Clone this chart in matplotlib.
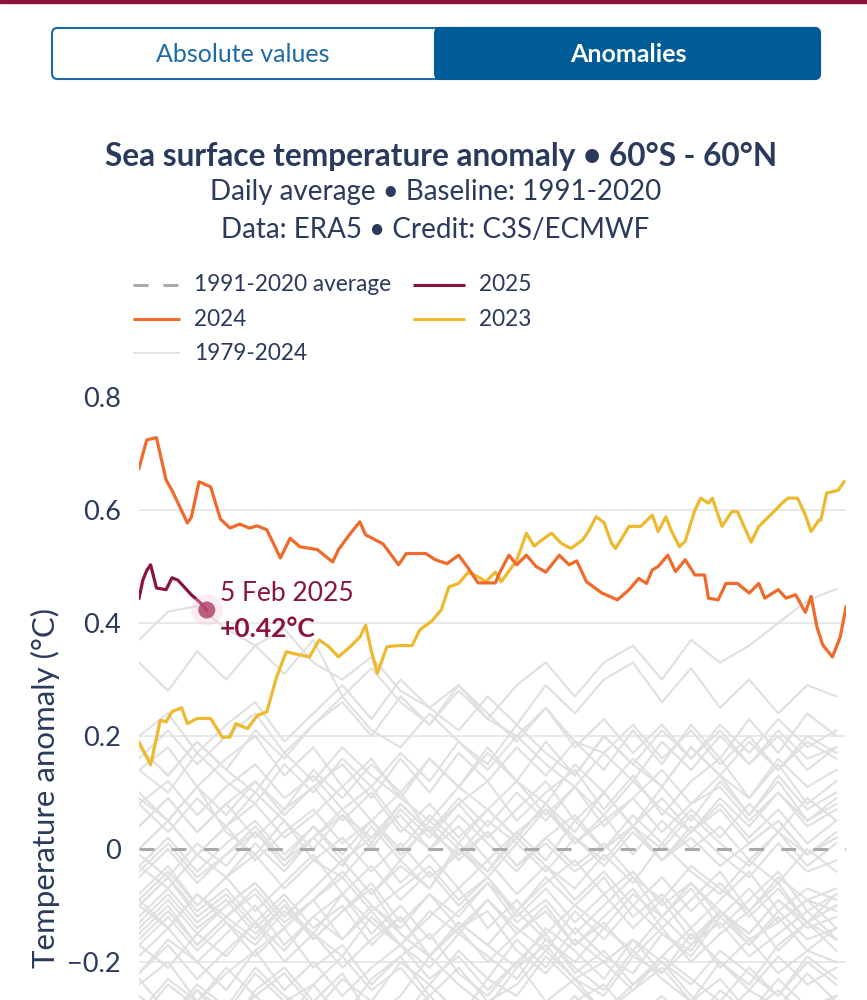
import numpy as np
import matplotlib.pyplot as plt
from matplotlib.patches import FancyBboxPatch, Rectangle
from matplotlib.lines import Line2D

plt.rcParams['font.family'] = ['Lato', 'DejaVu Sans']

NAVY = '#2a3a5c'
C2024 = '#ef6a2b'
C2023 = '#edb92f'
C2025 = '#8b1538'
GREY = '#e0e0e0'

# ---- data (day of year, anomaly degC) ----
days_2024 = [1, 5, 10, 15, 18, 26, 28, 32, 38, 43, 48, 53, 58, 62, 67, 74, 79, 84, 93,
             101, 104, 110, 115, 118, 127, 135, 139, 149, 154, 160, 166, 171, 176, 185,
             187, 192, 196, 201, 206, 211, 218, 223, 227, 232, 240, 248, 254, 259, 263,
             266, 269, 274, 278, 283, 288, 293, 295, 300, 304, 310, 316, 321, 324, 331,
             335, 340, 345, 348, 351, 354, 359, 363, 366]
vals_2024 = [0.674, 0.724, 0.728, 0.653, 0.635, 0.577, 0.587, 0.650, 0.641, 0.584, 0.568,
             0.575, 0.568, 0.572, 0.565, 0.515, 0.550, 0.535, 0.530, 0.508, 0.530, 0.558,
             0.579, 0.556, 0.540, 0.503, 0.523, 0.523, 0.512, 0.505, 0.520, 0.497, 0.471,
             0.471, 0.488, 0.520, 0.503, 0.520, 0.500, 0.490, 0.520, 0.503, 0.510, 0.473,
             0.453, 0.441, 0.459, 0.479, 0.470, 0.494, 0.500, 0.520, 0.491, 0.512, 0.485,
             0.485, 0.444, 0.441, 0.470, 0.470, 0.453, 0.470, 0.444, 0.459, 0.444, 0.450,
             0.419, 0.447, 0.393, 0.361, 0.340, 0.375, 0.428]

days_2023 = [1, 7, 12, 15, 18, 23, 26, 31, 38, 44, 48, 51, 57, 62, 67, 72, 77, 82, 89,
             94, 99, 104, 110, 115, 118, 121, 124, 129, 135, 142, 146, 152, 157, 161, 166,
             171, 177, 180, 185, 188, 196, 201, 205, 209, 214, 219, 224, 230, 233, 237,
             241, 245, 247, 254, 260, 266, 269, 273, 276, 280, 283, 288, 291, 295, 297,
             300, 302, 307, 310, 317, 321, 327, 333, 336, 341, 345, 348, 352, 353, 356,
             362, 365]
vals_2023 = [0.189, 0.149, 0.228, 0.225, 0.243, 0.250, 0.222, 0.231, 0.231, 0.198, 0.198,
             0.222, 0.213, 0.236, 0.243, 0.304, 0.349, 0.345, 0.340, 0.370, 0.358, 0.340,
             0.358, 0.375, 0.396, 0.350, 0.311, 0.358, 0.360, 0.360, 0.388, 0.403, 0.423,
             0.464, 0.470, 0.490, 0.480, 0.473, 0.490, 0.473, 0.511, 0.559, 0.536, 0.547,
             0.559, 0.541, 0.532, 0.547, 0.562, 0.588, 0.578, 0.541, 0.532, 0.571, 0.571,
             0.591, 0.562, 0.588, 0.562, 0.535, 0.545, 0.600, 0.621, 0.612, 0.621, 0.591,
             0.571, 0.597, 0.597, 0.543, 0.571, 0.591, 0.612, 0.621, 0.621, 0.591, 0.562,
             0.582, 0.582, 0.630, 0.635, 0.650]

days_2025 = [1, 3, 5, 7, 10, 15, 18, 21, 24, 28, 32, 36]
vals_2025 = [0.444, 0.476, 0.493, 0.503, 0.462, 0.459, 0.480, 0.476, 0.465, 0.450, 0.438, 0.423]

# 1979-2022, hundredths of a degree, every 15 days from 1 Jan
grey_days = list(range(1, 362, 15))
grey_years = {
    1979: [-30, -24, -28, -33, -25, -21, -27, -22, -30, -26, -19, -24, -28, -21, -17, -23, -26, -19, -22, -15, -20, -24, -17, -13, -18],
    1980: [-22, -16, -20, -25, -18, -14, -21, -17, -24, -19, -15, -22, -26, -20, -27, -23, -29, -24, -20, -26, -30, -25, -28, -22, -27],
    1981: [-29, -23, -27, -21, -26, -31, -24, -19, -25, -21, -27, -30, -23, -26, -19, -24, -29, -25, -21, -27, -23, -29, -25, -30, -26],
    1982: [-26, -30, -24, -28, -21, -26, -29, -23, -27, -20, -24, -18, -23, -16, -21, -14, -19, -22, -15, -18, -11, -16, -13, -9, -14],
    1983: [-10, -5, -12, -8, -14, -9, -16, -11, -7, -15, -19, -13, -17, -21, -14, -18, -23, -16, -20, -24, -18, -22, -26, -19, -23],
    1984: [-23, -29, -25, -31, -26, -22, -28, -33, -27, -30, -24, -29, -34, -28, -31, -26, -32, -36, -29, -33, -27, -31, -35, -30, -32],
    1985: [-34, -28, -32, -37, -31, -27, -33, -29, -35, -30, -26, -31, -35, -28, -32, -27, -24, -30, -26, -31, -25, -29, -23, -28, -26],
    1986: [-27, -31, -25, -29, -22, -27, -24, -30, -23, -19, -26, -21, -27, -24, -18, -23, -20, -16, -22, -17, -13, -19, -15, -11, -16],
    1987: [-15, -10, -17, -12, -8, -14, -9, -5, -11, -7, -3, -9, -5, -11, -6, -2, -8, -4, -10, -6, -12, -7, -13, -9, -11],
    1988: [-10, -5, -11, -7, -13, -8, -14, -10, -17, -12, -19, -14, -11, -18, -22, -16, -20, -25, -19, -23, -27, -21, -26, -20, -24],
    1989: [-24, -20, -27, -22, -18, -25, -20, -26, -21, -17, -23, -19, -25, -20, -15, -22, -18, -24, -19, -14, -21, -16, -22, -18, -20],
    1990: [-19, -14, -20, -15, -10, -17, -12, -8, -15, -10, -16, -11, -6, -13, -9, -15, -10, -5, -12, -7, -14, -9, -4, -11, -8],
    1991: [-12, -7, -13, -9, -15, -10, -16, -11, -6, -13, -8, -14, -9, -15, -11, -17, -12, -7, -14, -9, -4, -11, -6, -13, -8],
    1992: [-9, -14, -8, -13, -17, -11, -15, -19, -12, -17, -21, -15, -19, -23, -16, -21, -25, -18, -23, -27, -20, -25, -19, -24, -21],
    1993: [-22, -17, -23, -18, -13, -20, -15, -21, -16, -12, -19, -14, -20, -15, -10, -17, -13, -19, -14, -20, -15, -11, -18, -13, -16],
    1994: [-17, -12, -18, -13, -19, -14, -9, -16, -11, -17, -12, -7, -14, -9, -15, -10, -5, -12, -8, -14, -9, -4, -11, -7, -9],
    1995: [-8, -3, -10, -5, -11, -6, -1, -8, -3, -9, -4, -10, -5, -12, -7, -13, -8, -14, -9, -16, -11, -17, -12, -18, -14],
    1996: [-17, -21, -15, -19, -13, -18, -12, -16, -10, -15, -19, -13, -17, -11, -16, -20, -14, -18, -12, -17, -11, -15, -9, -14, -12],
    1997: [-13, -8, -14, -10, -6, -12, -7, -2, -8, -3, -7, 1, -4, 3, -2, 5, 0, 6, 1, 7, 2, 8, 3, 9, 5],
    1998: [8, 12, 6, 11, 15, 9, 13, 7, 11, 4, 0, 6, 1, -4, 2, -3, 1, -5, -9, -3, -7, -11, -5, -9, -7],
    1999: [-10, -14, -8, -12, -16, -10, -15, -8, -13, -17, -11, -15, -9, -14, -18, -11, -16, -10, -15, -19, -12, -17, -11, -16, -14],
    2000: [-16, -11, -17, -12, -7, -13, -9, -4, -10, -14, -8, -12, -6, -11, -5, -10, -14, -8, -12, -6, -11, -15, -9, -13, -10],
    2001: [-9, -4, -10, -5, -1, -7, -2, 2, -4, 1, -5, -1, 3, -3, 1, -4, 0, 4, -2, 2, -3, 1, 5, -1, 2],
    2002: [-3, 2, -4, 1, 5, -1, 4, -2, 2, 6, 0, 4, -2, 3, 7, 1, 5, 9, 3, 8, 11, 5, 10, 4, 7],
    2003: [8, 3, 9, 4, 10, 5, 0, 6, 2, 8, 3, -1, 5, 1, 7, 2, -2, 4, 0, 6, 1, -3, 3, -1, 2],
    2004: [0, 5, -1, 4, -2, 3, 7, 1, 5, -1, 4, -2, 3, -3, 2, 6, 0, 4, -2, 3, 7, 1, 5, -1, 3],
    2005: [0, 5, -1, 4, 8, 2, 6, 11, 5, 10, 3, 8, 2, 7, 12, 5, 10, 4, 9, 3, 8, 2, 7, 1, 5],
    2006: [-1, -5, 1, -3, 3, -2, 4, -1, 5, 0, 6, 1, 7, 2, 8, 3, 10, 4, 11, 5, 12, 6, 13, 7, 10],
    2007: [10, 5, 11, 3, -1, 5, -2, -5, 1, -6, -1, -7, -2, -8, -3, -9, -4, -10, -5, -11, -6, -12, -7, -13, -10],
    2008: [-14, -9, -15, -10, -6, -12, -7, -2, -8, -2, -7, 0, -5, 1, -4, 2, -3, 3, -2, 4, -1, -5, 1, -4, -2],
    2009: [-5, 0, -6, -1, 3, -3, 2, 6, 0, 7, 2, 8, 12, 5, 10, 14, 7, 13, 6, 12, 16, 9, 15, 8, 12],
    2010: [14, 18, 11, 16, 20, 13, 18, 11, 16, 9, 5, 11, 7, 2, 8, 1, 6, -1, 5, 0, 4, -2, 3, -3, 1],
    2011: [-3, -7, -1, -5, 1, -4, 2, -3, 4, -2, 5, 0, -4, 2, -3, -7, -1, -6, 1, -4, -8, -2, -6, 0, -4],
    2012: [-4, 1, -5, -1, 4, -2, 2, 7, 1, 8, 3, 9, 4, 10, 5, 11, 6, 12, 7, 3, 9, 4, 10, 5, 8],
    2013: [4, 9, 3, 8, 2, 7, 11, 5, 10, 3, 8, 2, 7, 12, 6, 11, 4, 9, 14, 8, 13, 6, 12, 5, 9],
    2014: [4, 9, 3, 8, 12, 6, 11, 15, 9, 16, 10, 17, 12, 18, 13, 19, 14, 21, 15, 22, 16, 23, 17, 24, 20],
    2015: [18, 13, 19, 14, 21, 16, 22, 26, 20, 27, 22, 28, 23, 29, 33, 27, 33, 36, 30, 37, 33, 36, 40, 44, 46],
    2016: [37, 42, 43, 39, 36, 39, 33, 30, 34, 28, 25, 29, 23, 20, 25, 19, 17, 22, 16, 21, 15, 20, 14, 19, 16],
    2017: [16, 21, 15, 20, 24, 17, 22, 27, 21, 18, 24, 19, 15, 22, 17, 13, 20, 15, 11, 18, 13, 9, 16, 11, 14],
    2018: [9, 5, 11, 6, 12, 7, 14, 9, 15, 10, 16, 11, 18, 12, 19, 13, 20, 15, 21, 16, 22, 17, 23, 18, 21],
    2019: [20, 24, 17, 22, 26, 19, 24, 29, 23, 30, 25, 21, 27, 22, 29, 24, 30, 33, 26, 32, 25, 30, 24, 29, 27],
    2020: [33, 28, 35, 30, 36, 31, 37, 27, 32, 26, 22, 29, 24, 19, 25, 18, 23, 17, 22, 16, 21, 15, 20, 14, 18],
    2021: [14, 10, 17, 12, 8, 15, 10, 16, 11, 17, 12, 19, 14, 20, 15, 11, 17, 12, 19, 14, 20, 15, 21, 16, 18],
    2022: [18, 13, 19, 14, 10, 17, 12, 18, 13, 9, 16, 11, 17, 12, 8, 15, 10, 16, 11, 18, 13, 19, 14, 20, 17],
}

yticks = [-0.2, 0, 0.2, 0.4, 0.6, 0.8]
ytick_labels = ['\u22120.2', '0', '0.2', '0.4', '0.6', '0.8']

# ---- figure ----
fig = plt.figure(figsize=(8.67, 10), dpi=100)
W, H = 867, 1000


def fx(px):
    return px / W


def fy(py):
    return 1 - py / H


# top accent bar
fig.patches.append(Rectangle((0, fy(3)), 1, 3 / H, transform=fig.transFigure,
                             color='#8b1538', zorder=5))

# toggle buttons
btn_out = FancyBboxPatch((fx(52), fy(79)), fx(768), 51 / H,
                         boxstyle='round,pad=0,rounding_size=0.006',
                         transform=fig.transFigure, facecolor='white',
                         edgecolor='#1d6aa5', linewidth=1.5)
fig.patches.append(btn_out)
btn_on = FancyBboxPatch((fx(435), fy(79)), fx(385), 51 / H,
                        boxstyle='round,pad=0,rounding_size=0.006',
                        transform=fig.transFigure, facecolor='#005b96',
                        edgecolor='#005b96', linewidth=1.5)
fig.patches.append(btn_on)
fig.patches.append(Rectangle((fx(435), fy(79)), fx(20), 51 / H, transform=fig.transFigure,
                             facecolor='#005b96', edgecolor='none'))
fig.text(fx(243), fy(55), 'Absolute values', ha='center', va='center',
         fontsize=18, color='#1d6aa5')
fig.text(fx(628), fy(55), 'Anomalies', ha='center', va='center',
         fontsize=18, color='white', fontweight='bold')

# titles
fig.text(fx(441), fy(156), 'Sea surface temperature anomaly \u2022 60\u00b0S - 60\u00b0N',
         ha='center', va='center', fontsize=22.8, fontweight='bold', color=NAVY)
fig.text(fx(436), fy(192), 'Daily average \u2022 Baseline: 1991-2020',
         ha='center', va='center', fontsize=20, color=NAVY)
fig.text(fx(435), fy(230), 'Data: ERA5 \u2022 Credit: C3S/ECMWF',
         ha='center', va='center', fontsize=20, color=NAVY)

# legend (drawn by hand, plotly style)
legend_items = [
    (133, 285, 47, dict(color='#aaaaaa', lw=2.2, ls=(0, (4.9, 4.9))), '1991-2020 average'),
    (413, 285, 52, dict(color=C2025, lw=2.2), '2025'),
    (133, 319, 47, dict(color=C2024, lw=2.2), '2024'),
    (413, 319, 52, dict(color=C2023, lw=2.2), '2023'),
    (133, 353, 47, dict(color=GREY, lw=1.3), '1979-2024'),
]
for px, py, ln, style, label in legend_items:
    fig.lines.append(Line2D([fx(px), fx(px + ln)], [fy(py), fy(py)],
                            transform=fig.transFigure, solid_capstyle='butt', **style))
    fig.text(fx(px + ln + 14), fy(py), label, ha='left', va='center', fontsize=16.3, color=NAVY)

# ---- axes ----
ymin, ymax = -0.6, 0.8
top_px, px_per_unit = 397, 565
bottom_px = top_px + (ymax - ymin) * px_per_unit
ax = fig.add_axes([fx(139), fy(bottom_px), fx(846 - 139), (bottom_px - top_px) / H])
ax.set_xlim(1, 366)
ax.set_ylim(ymin, ymax)

for v in [-0.4, -0.2, 0.2, 0.4, 0.6]:
    ax.axhline(v, color='#e3e3e3', lw=1.1, zorder=0)

for yr, vals in grey_years.items():
    ax.plot(grey_days, np.array(vals) / 100, color=GREY, lw=1.5, zorder=1)

ax.axhline(0, color='#aaaaaa', lw=2.2, ls=(0, (4.9, 5.6)), zorder=2)

ax.plot(days_2023, vals_2023, color=C2023, lw=2.3, zorder=3)
ax.plot(days_2024, vals_2024, color=C2024, lw=2.3, zorder=4)
ax.plot(days_2025, vals_2025, color=C2025, lw=2.3, zorder=5)

# last point marker + label
ax.scatter([days_2025[-1]], [vals_2025[-1]], s=520, color='#f3c9d2', alpha=0.35,
           edgecolors='none', zorder=6)
ax.scatter([days_2025[-1]], [vals_2025[-1]], s=150, color='#b2456a', alpha=0.85,
           edgecolors='none', zorder=7)
ax.annotate('5 Feb 2025', (days_2025[-1], vals_2025[-1]), xytext=(13, 17),
            textcoords='offset pixels', ha='left', va='center', fontsize=19,
            color=C2025, zorder=8)
ax.annotate('+{:.2f}\u00b0C'.format(vals_2025[-1]), (days_2025[-1], vals_2025[-1]),
            xytext=(13, -19), textcoords='offset pixels', ha='left', va='center',
            fontsize=19, fontweight='bold', color=C2025, zorder=8)

ax.set_yticks(yticks)
ax.set_yticklabels(ytick_labels)
ax.tick_params(axis='y', length=0, pad=13, labelsize=19.5, labelcolor=NAVY)
ax.set_xticks([])
for s in ax.spines.values():
    s.set_visible(False)

fig.text(fx(45), fy(788), 'Temperature anomaly (\u00b0C)', rotation=90,
         ha='center', va='center', fontsize=22.5, color=NAVY)

fig.savefig('out.png', dpi=100)
print('saved')
